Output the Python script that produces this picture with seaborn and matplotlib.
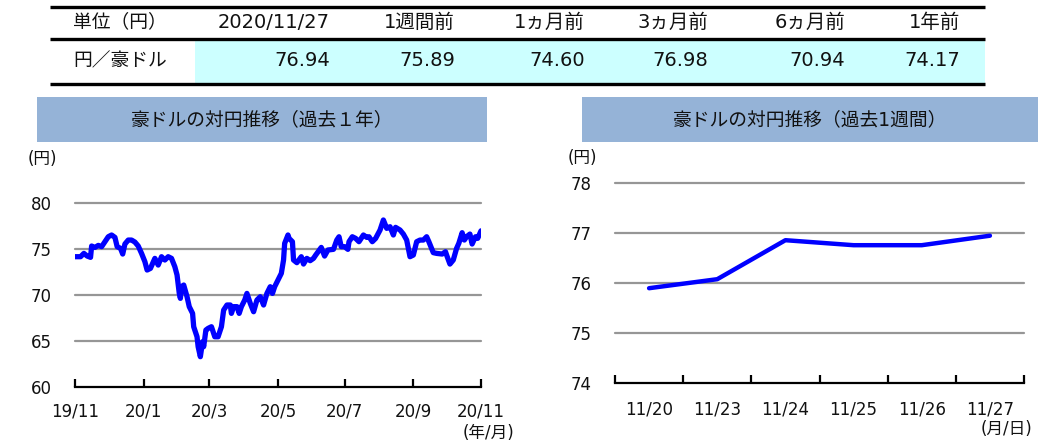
import numpy as np
import pandas as pd
import matplotlib
matplotlib.use("Agg")
import matplotlib.pyplot as plt
from matplotlib.patches import Rectangle
import seaborn as sns

# ---------------- data ----------------
table_header_label = "単位（円）"
table_row_label = "円／豪ドル"
table_columns = ["2020/11/27", "1週間前", "1ヵ月前", "3ヵ月前", "6ヵ月前", "1年前"]
table_values = ["76.94", "75.89", "74.60", "76.98", "70.94", "74.17"]

year_title = "豪ドルの対円推移（過去１年）"
year_days = [0, 5, 8, 11, 14, 15, 18, 21, 24, 27, 30, 33, 36, 38, 41, 43, 45, 48, 51, 54,
             57, 60, 63, 65, 68, 70, 72, 75, 78, 81, 84, 87, 90, 92, 94, 95, 96, 98, 101, 103,
             106, 107, 110, 111, 113, 115, 116, 118, 120, 123, 126, 129, 132, 134, 137, 140, 141, 143, 146, 148,
             150, 153, 155, 158, 161, 164, 167, 170, 173, 176, 178, 180, 183, 186, 188, 189, 192, 193, 196, 197,
             200, 204, 206, 209, 212, 215, 217, 222, 225, 228, 233, 236, 238, 240, 243, 246, 247, 250, 253, 256,
             260, 263, 265, 268, 271, 275, 278, 281, 284, 287, 289, 293, 296, 299, 302, 305, 308, 311, 314, 317,
             319, 323, 326, 331, 334, 335, 338, 341, 344, 346, 349, 351, 353, 356, 358, 361, 363, 366]
year_values = [74.13, 74.13, 74.49, 74.20, 74.06, 75.29, 75.14, 75.36, 75.22, 75.76, 76.30, 76.49, 76.23, 75.22, 75.04, 74.42, 75.51, 75.94, 75.94, 75.72,
               75.29, 74.49, 73.59, 72.68, 72.86, 73.41, 73.95, 73.22, 74.13, 73.77, 74.13, 73.95, 73.04, 72.14, 70.14, 69.60, 70.87, 71.05, 69.78, 68.70,
               67.97, 66.52, 65.43, 64.35, 63.26, 64.89, 64.35, 66.16, 66.34, 66.52, 65.43, 65.43, 66.52, 68.33, 68.88, 68.88, 67.97, 68.70, 68.70, 67.97,
               68.70, 69.42, 70.14, 69.06, 68.15, 69.42, 69.78, 68.88, 70.14, 70.87, 70.14, 70.87, 71.59, 72.32, 73.77, 75.58, 76.49, 76.12, 75.76, 73.77,
               73.48, 74.13, 73.33, 73.95, 73.70, 73.95, 74.31, 75.14, 74.20, 74.86, 74.93, 75.94, 76.30, 75.22, 75.22, 74.93, 75.76, 76.30, 76.12, 75.76,
               76.49, 76.23, 76.30, 75.76, 76.12, 77.03, 78.12, 77.21, 77.39, 76.49, 77.32, 77.03, 76.59, 75.94, 74.13, 74.31, 75.76, 75.94, 75.94, 76.30,
               75.76, 74.57, 74.49, 74.42, 74.67, 74.31, 73.33, 73.77, 75.04, 75.58, 76.74, 75.94, 76.30, 76.59, 75.51, 76.30, 76.12, 76.94]
year_tick_days = [0, 62, 121, 183, 243, 305, 366]
year_tick_labels = ["19/11", "20/1", "20/3", "20/5", "20/7", "20/9", "20/11"]
year_yticks = [60, 65, 70, 75, 80]

week_title = "豪ドルの対円推移（過去1週間）"
week_dates = ["11/20", "11/23", "11/24", "11/25", "11/26", "11/27"]
week_values = [75.89, 76.07, 76.85, 76.75, 76.75, 76.94]
week_yticks = [74, 75, 76, 77, 78]

# ---------------- style ----------------
sns.set_theme(style="white")
plt.rcParams['font.family'] = ['DejaVu Sans', 'Noto Sans CJK JP']
plt.rcParams['axes.unicode_minus'] = False

W, H = 1041, 442
fig = plt.figure(figsize=(W / 100, H / 100), dpi=100)
fig.patch.set_facecolor("white")

def px_axes(left, top, right, bottom):
    return [left / W, 1 - bottom / H, (right - left) / W, (bottom - top) / H]

BLUE = "#0000FF"
GRID = "#969696"
TITLE_BG = "#95B3D7"
TXT = "#111111"

# background axes in pixel coordinates
bg = fig.add_axes([0, 0, 1, 1])
bg.set_xlim(0, W)
bg.set_ylim(H, 0)
bg.axis("off")

# ---- table ----
bg.add_patch(Rectangle((195, 39.5), 985 - 195, 43, facecolor="#CCFFFF", edgecolor="none"))
for yl in (6.5, 38.5, 83.5):
    bg.plot([50, 985], [yl, yl], color="black", lw=2.4, solid_capstyle="butt")
col_right = [330, 455, 585, 708, 845, 960]
bg.text(73, 22, table_header_label, fontsize=13.5, ha="left", va="center", color=TXT)
bg.text(73, 61, table_row_label, fontsize=13.5, ha="left", va="center", color=TXT)
for xr, hdr, val in zip(col_right, table_columns, table_values):
    bg.text(xr, 22, hdr, fontsize=14, ha="right", va="center", color=TXT)
    bg.text(xr, 61, val, fontsize=14, ha="right", va="center", color=TXT)

# ---- title boxes ----
bg.add_patch(Rectangle((37, 97), 450, 45, facecolor=TITLE_BG, edgecolor="none"))
bg.text(262, 119.5, year_title, fontsize=13.5, ha="center", va="center", color=TXT)
bg.add_patch(Rectangle((582, 97), 456, 45, facecolor=TITLE_BG, edgecolor="none"))
bg.text(810, 119.5, week_title, fontsize=13.5, ha="center", va="center", color=TXT)

# unit labels
bg.text(42, 159, "(円)", fontsize=12, ha="center", va="center", color=TXT)
bg.text(489, 433, "(年/月)", fontsize=12, ha="center", va="center", color=TXT)
bg.text(582, 158, "(円)", fontsize=12, ha="center", va="center", color=TXT)
bg.text(1006, 429, "(月/日)", fontsize=12, ha="center", va="center", color=TXT)

# ---- left chart (1 year) ----
ax1 = fig.add_axes(px_axes(75, 202.7, 481, 386.7))
ax1.patch.set_alpha(0)
df_year = pd.DataFrame({"day": year_days, "rate": year_values})
sns.lineplot(data=df_year, x="day", y="rate", ax=ax1, color=BLUE, linewidth=3.8,
             estimator=None, sort=False, legend=False)
ax1.set_xlim(year_tick_days[0], year_tick_days[-1])
ax1.set_ylim(year_yticks[0], year_yticks[-1])
ax1.set_yticks(year_yticks)
ax1.set_yticklabels([str(v) for v in year_yticks])
ax1.set_xticks(year_tick_days)
ax1.set_xticklabels(year_tick_labels)
for y in year_yticks[1:]:
    ax1.axhline(y, color=GRID, lw=1.6, zorder=0, clip_on=False)
for s in ("top", "right", "left"):
    ax1.spines[s].set_visible(False)
ax1.spines["bottom"].set_color("black")
ax1.spines["bottom"].set_linewidth(1.6)
ax1.tick_params(axis="x", direction="in", length=6, width=1.6, color="black",
                pad=11.5, labelsize=12, labelcolor=TXT, bottom=True)
ax1.tick_params(axis="y", length=0, pad=16.5, labelsize=12, labelcolor=TXT)
ax1.set_xlabel("")
ax1.set_ylabel("")
ax1.grid(False)

# ---- right chart (1 week) ----
ax2 = fig.add_axes(px_axes(615, 182.7, 1024, 382.7))
ax2.patch.set_alpha(0)
pos = np.arange(len(week_dates))
df_week = pd.DataFrame({"pos": pos, "rate": week_values})
sns.lineplot(data=df_week, x="pos", y="rate", ax=ax2, color=BLUE, linewidth=3.2,
             estimator=None, sort=False, legend=False)
ax2.set_xlim(-0.5, len(week_dates) - 0.5)
ax2.set_ylim(week_yticks[0], week_yticks[-1])
ax2.set_yticks(week_yticks)
ax2.set_yticklabels([str(v) for v in week_yticks])
ax2.set_xticks(pos)
ax2.set_xticklabels(week_dates)
ax2.set_xticks(np.arange(-0.5, len(week_dates)), minor=True)
for y in week_yticks[1:]:
    ax2.axhline(y, color=GRID, lw=1.6, zorder=0, clip_on=False)
for s in ("top", "right", "left"):
    ax2.spines[s].set_visible(False)
ax2.spines["bottom"].set_color("black")
ax2.spines["bottom"].set_linewidth(1.6)
ax2.tick_params(axis="x", which="major", length=0, pad=13, labelsize=12, labelcolor=TXT)
ax2.tick_params(axis="x", which="minor", direction="in", length=6, width=1.6,
                color="black", bottom=True)
ax2.tick_params(axis="y", length=0, pad=16.5, labelsize=12, labelcolor=TXT)
ax2.set_xlabel("")
ax2.set_ylabel("")
ax2.grid(False)

fig.savefig("out.png", dpi=100, facecolor="white")
